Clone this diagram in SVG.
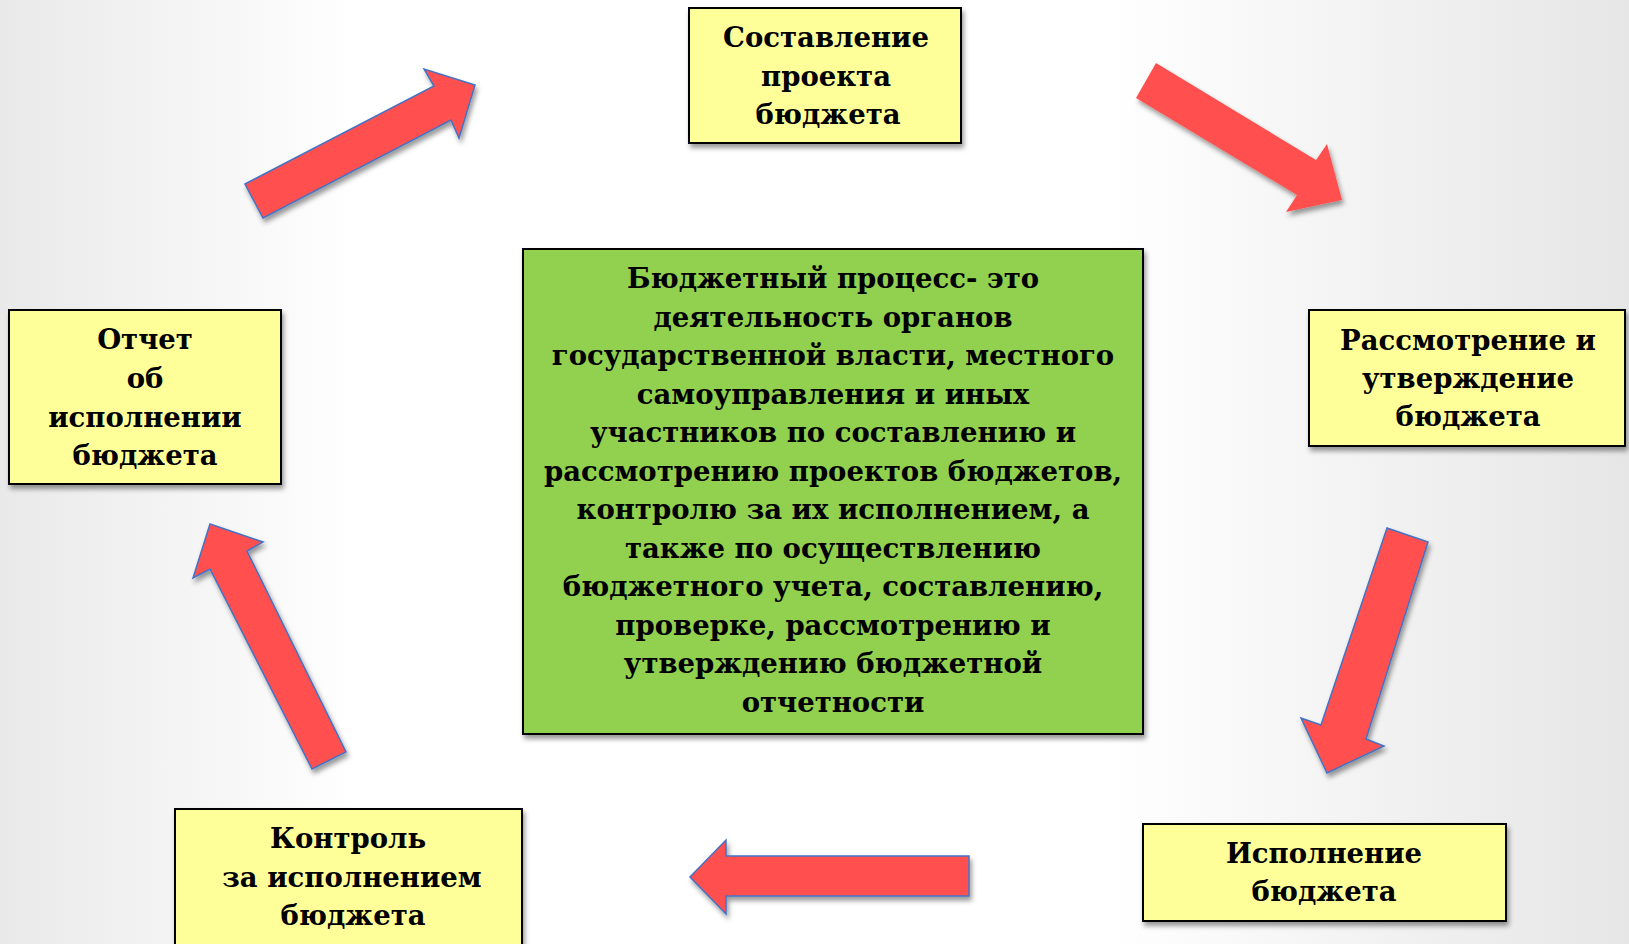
<svg xmlns="http://www.w3.org/2000/svg" width="1629" height="944" viewBox="0 0 1629 944">
<defs>
<linearGradient id="bg" x1="0" y1="0" x2="1" y2="0">
<stop offset="0" stop-color="#e9e9e9"/>
<stop offset="0.22" stop-color="#ffffff"/>
<stop offset="0.68" stop-color="#ffffff"/>
<stop offset="1" stop-color="#e6e6e6"/>
</linearGradient>
<filter id="sh" x="-10%" y="-10%" width="130%" height="130%">
<feDropShadow dx="2" dy="4" stdDeviation="2.5" flood-color="#000" flood-opacity="0.4"/>
</filter>
<style>
.box{fill:#FFFF99;stroke:#000;stroke-width:2;filter:url(#sh)}
.green{fill:#92D050;stroke:#000;stroke-width:2;filter:url(#sh)}
.arr{fill:#FF5050;stroke:#4472C4;stroke-width:1.5;filter:url(#sh)}
.arr2{fill:#FF5050;stroke:none;filter:url(#sh)}
text{font-family:"DejaVu Serif","Liberation Serif",serif;font-weight:bold;font-size:27.5px;fill:#000;text-anchor:middle}
</style>
</defs>
<rect width="1629" height="944" fill="url(#bg)"/>
<g id="connectors">
<polygon class="arr" points="245,184 434,86 424,69 475,85 459,138 451,120 263,218"/>
<polygon class="arr2" points="1156,63 1316,160 1327,144 1342,200 1286,212 1297,195 1136,98"/>
<polygon class="arr" points="1387,528 1428,542 1366,739 1384,746 1327,773 1301,718 1321,725"/>
<polygon class="arr" points="969,856 726,856 726,840 690,877 726,914 726,896 969,896"/>
<polygon class="arr" points="210,524 263,542 247,551 346,752 312,769 210,569 193,578"/>
</g>
<g id="center">
<rect class="green" x="523" y="249" width="620" height="485"/>
<text x="833" y="288">Бюджетный процесс- это</text>
<text x="833" y="326.5">деятельность органов</text>
<text x="833" y="365">государственной власти, местного</text>
<text x="833" y="403.5">самоуправления и иных</text>
<text x="833" y="442">участников по составлению и</text>
<text x="833" y="480.5">рассмотрению проектов бюджетов,</text>
<text x="833" y="519">контролю за их исполнением, а</text>
<text x="833" y="557.5">также по осуществлению</text>
<text x="833" y="596">бюджетного учета, составлению,</text>
<text x="833" y="634.5">проверке, рассмотрению и</text>
<text x="833" y="673">утверждению бюджетной</text>
<text x="833" y="711.5">отчетности</text>
</g>
<g id="node-sostavlenie">
<rect class="box" x="689" y="8" width="272" height="135"/>
<text x="826" y="47">Составление</text>
<text x="826" y="86">проекта</text>
<text x="828" y="124">бюджета</text>
</g>
<g id="node-rassmotrenie">
<rect class="box" x="1309" y="310" width="316" height="136"/>
<text x="1468" y="350">Рассмотрение и</text>
<text x="1468" y="388">утверждение</text>
<text x="1468" y="426">бюджета</text>
</g>
<g id="node-ispolnenie">
<rect class="box" x="1143" y="824" width="363" height="97"/>
<text x="1324" y="863">Исполнение</text>
<text x="1324" y="901">бюджета</text>
</g>
<g id="node-kontrol">
<rect class="box" x="175" y="809" width="347" height="150"/>
<text x="348" y="848">Контроль</text>
<text x="352" y="887">за исполнением</text>
<text x="353" y="925">бюджета</text>
</g>
<g id="node-otchet">
<rect class="box" x="9" y="310" width="272" height="174"/>
<text x="145" y="349">Отчет</text>
<text x="145" y="388">об</text>
<text x="145" y="427">исполнении</text>
<text x="145" y="465">бюджета</text>
</g>
</svg>
